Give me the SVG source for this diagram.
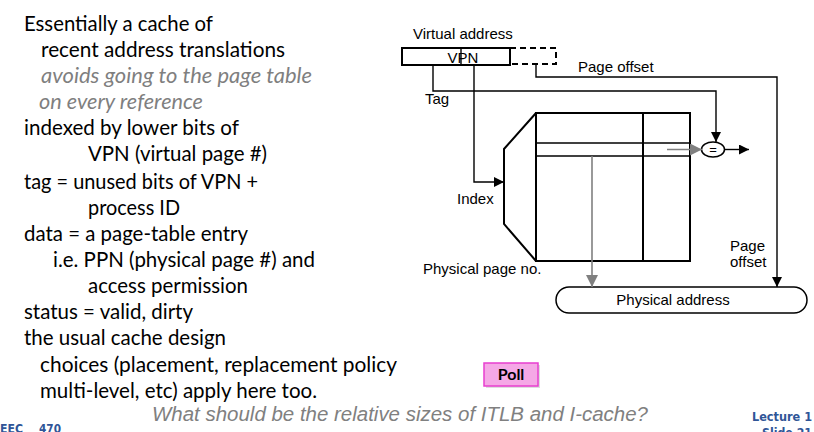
<svg xmlns="http://www.w3.org/2000/svg" width="814" height="432" viewBox="0 0 814 432">
<style>
.body{font-family:Lato,"Open Sans","Liberation Sans",sans-serif;font-size:21px;fill:#000}
.it{font-style:italic;fill:#7f7f7f}
.lbl{font-family:"Liberation Sans",Arial,sans-serif;font-size:15px;fill:#000}
.ln{fill:none;stroke:#000;stroke-width:1.4}
.thick{fill:none;stroke:#000;stroke-width:2}
.gray{fill:none;stroke:#808080;stroke-width:1.6}
.foot{font-family:"DejaVu Sans",sans-serif;font-weight:bold;font-size:12px;fill:#2f5597}
</style>
<defs>
<marker id="ab" markerWidth="10" markerHeight="10" refX="10" refY="5" orient="auto" markerUnits="userSpaceOnUse">
<path d="M0,0 L10,5 L0,10 Z" fill="#000"/>
</marker>
<marker id="ag" markerWidth="12" markerHeight="12" refX="12" refY="6" orient="auto" markerUnits="userSpaceOnUse">
<path d="M0,0 L12,6 L0,12 Z" fill="#808080"/>
</marker>
</defs>

<g id="left-text" class="body">
<text x="24" y="31" textLength="189" lengthAdjust="spacingAndGlyphs">Essentially a cache of</text>
<text x="41" y="57" textLength="244" lengthAdjust="spacingAndGlyphs">recent address translations</text>
<text x="41" y="83" class="it" textLength="271" lengthAdjust="spacingAndGlyphs">avoids going to the page table</text>
<text x="39" y="109" class="it" textLength="164" lengthAdjust="spacingAndGlyphs">on every reference</text>
<text x="24" y="135" textLength="215" lengthAdjust="spacingAndGlyphs">indexed by lower bits of</text>
<text x="88" y="161" textLength="179" lengthAdjust="spacingAndGlyphs">VPN (virtual page #)</text>
<text x="24" y="189" textLength="234" lengthAdjust="spacingAndGlyphs">tag = unused bits of VPN +</text>
<text x="88" y="215" textLength="92" lengthAdjust="spacingAndGlyphs">process ID</text>
<text x="24" y="241" textLength="224" lengthAdjust="spacingAndGlyphs">data = a page-table entry</text>
<text x="53" y="267" textLength="262" lengthAdjust="spacingAndGlyphs">i.e. PPN (physical page #) and</text>
<text x="88" y="293" textLength="160" lengthAdjust="spacingAndGlyphs">access permission</text>
<text x="24" y="319" textLength="169" lengthAdjust="spacingAndGlyphs">status = valid, dirty</text>
<text x="24" y="345" textLength="202" lengthAdjust="spacingAndGlyphs">the usual cache design</text>
<text x="40" y="372" textLength="357" lengthAdjust="spacingAndGlyphs">choices (placement, replacement policy</text>
<text x="40" y="398" textLength="277" lengthAdjust="spacingAndGlyphs">multi-level, etc) apply here too.</text>
</g>

<g id="virtual-address">
<text x="413" y="39" class="lbl">Virtual address</text>
<rect x="402" y="48" width="108" height="17" class="thick"/>
<line x1="461" y1="48" x2="461" y2="65" class="ln"/>
<text x="463" y="63" class="lbl" text-anchor="middle">VPN</text>
<path d="M510,48 H556 V64 H510" fill="none" stroke="#000" stroke-width="2" stroke-dasharray="6,4"/>
</g>

<g id="tlb">
<path d="M536,113 L504,149 V224 L536,261" class="thick"/>
<rect x="536" y="113" width="154" height="148" class="thick"/>
<line x1="643" y1="113" x2="643" y2="261" class="thick"/>
<line x1="536" y1="143" x2="690" y2="143" class="ln"/>
<line x1="536" y1="156" x2="690" y2="156" class="ln"/>
</g>

<g id="comparator">
<ellipse cx="713" cy="149.5" rx="11.5" ry="7.5" fill="#fff" stroke="#000" stroke-width="1.5"/>
<text x="713" y="154" font-family="Liberation Sans,Arial,sans-serif" font-size="13" text-anchor="middle">=</text>
</g>

<g id="physical-address">
<rect x="556" y="287" width="251" height="26" rx="13" ry="13" fill="#fff" stroke="#000" stroke-width="1.5"/>
<text x="673" y="305" class="lbl" text-anchor="middle">Physical address</text>
</g>

<g id="labels" class="lbl">
<text x="578" y="72">Page offset</text>
<text x="425" y="104">Tag</text>
<text x="457" y="204">Index</text>
<text x="423" y="274">Physical page no.</text>
<text x="730" y="251">Page</text>
<text x="730" y="267">offset</text>
</g>

<g id="connectors">
<path d="M433,65 V91 H716 V142" class="ln" marker-end="url(#ab)"/>
<path d="M474,65 V182 H504" class="ln" marker-end="url(#ab)"/>
<path d="M536,64 V77 H777 V287" class="ln" marker-end="url(#ab)"/>
<path d="M725,149.5 H749" class="ln" marker-end="url(#ab)"/>
<path d="M667,149.5 H702" class="gray" marker-end="url(#ag)"/>
<path d="M592,156 V287" class="gray" marker-end="url(#ag)"/>
</g>

<g id="poll">
<rect x="486" y="365" width="54" height="23" fill="#c8c8c8" opacity="0.6"/>
<rect x="484" y="363" width="54" height="23" fill="#f5a8e6" stroke="#e83ecf" stroke-width="1.5"/>
<text x="511" y="380" font-family="Lato,'Open Sans',sans-serif" font-weight="bold" font-size="16" text-anchor="middle" fill="#000">Poll</text>
</g>

<g id="question">
<text x="152" y="421" font-family="'Liberation Sans',Arial,sans-serif" font-style="italic" font-size="20" fill="#808080" textLength="496" lengthAdjust="spacingAndGlyphs">What should be the relative sizes of ITLB and I-cache?</text>
</g>

<g id="footer" class="foot">
<text x="0" y="433" textLength="23" lengthAdjust="spacingAndGlyphs">EEC</text>
<text x="39" y="433" textLength="22" lengthAdjust="spacingAndGlyphs">470</text>
<text x="752" y="421" textLength="60" lengthAdjust="spacingAndGlyphs">Lecture 1</text>
<text x="762" y="437" textLength="50" lengthAdjust="spacingAndGlyphs">Slide 21</text>
</g>
</svg>
